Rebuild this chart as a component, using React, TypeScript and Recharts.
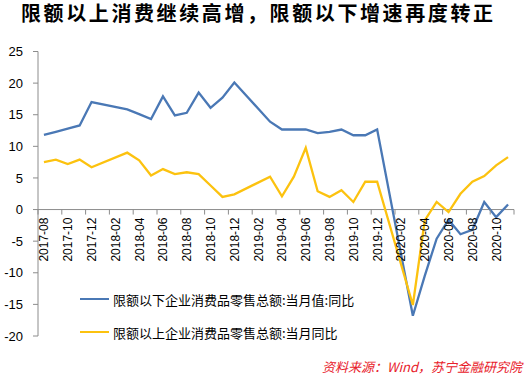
import React from "react";
import {
  LineChart,
  Line,
  XAxis,
  YAxis,
  Legend,
  ReferenceLine,
} from "recharts";

// ---------------------------------------------------------------------------
// Data (Jan/Feb are not reported separately)
// ---------------------------------------------------------------------------

const MONTHS = [
  "2017-08", "2017-09", "2017-10", "2017-11", "2017-12",
  "2018-01", "2018-02", "2018-03", "2018-04", "2018-05", "2018-06",
  "2018-07", "2018-08", "2018-09", "2018-10", "2018-11", "2018-12",
  "2019-01", "2019-02", "2019-03", "2019-04", "2019-05", "2019-06",
  "2019-07", "2019-08", "2019-09", "2019-10", "2019-11", "2019-12",
  "2020-01", "2020-02", "2020-03", "2020-04", "2020-05", "2020-06",
  "2020-07", "2020-08", "2020-09", "2020-10", "2020-11",
];

// 限额以下企业消费品零售总额:当月值:同比
const BELOW = [
  11.8, 12.3, 12.8, 13.3, 17.0,
  null, null, 15.85, 15.1, 14.3, 17.9,
  14.9, 15.3, 18.5, 16.1, 17.7, 20.1,
  null, null, 13.9, 12.66, 12.66, 12.66,
  12.1, 12.3, 12.66, 11.75, 11.75, 12.66,
  null, null, -16.8, -10.5, -4.6, -1.6,
  -3.9, -3.2, 1.2, -1.2, 0.8,
];

// 限额以上企业消费品零售总额:当月同比
const ABOVE = [
  7.5, 7.9, 7.2, 7.9, 6.7,
  null, null, 9.0, 7.8, 5.4, 6.4,
  5.6, 5.9, 5.6, 3.8, 2.0, 2.4,
  null, null, 5.2, 2.1, 5.2, 9.75,
  2.9, 2.0, 3.05, 1.2, 4.4, 4.4,
  null, null, -15.1, -1.7, 1.2, -0.4,
  2.5, 4.4, 5.3, 7.0, 8.3,
];

const SERIES_NAMES = [
  "限额以下企业消费品零售总额:当月值:同比",
  "限额以上企业消费品零售总额:当月同比",
];
const SERIES_COLORS = ["#4a78b5", "#fcc20f"];

const Y_TICKS = [-20, -15, -10, -5, 0, 5, 10, 15, 20, 25];
const Y_MIN = -20;
const Y_MAX = 25;

// ---------------------------------------------------------------------------
// Layout
// ---------------------------------------------------------------------------

const W = 526;
const H = 378;
const X_AXIS_H = 1;
const MARGIN = { top: 51.5, right: 12, bottom: 41, left: 0 };
const Y_AXIS_W = 38;
const PLOT_H = H - MARGIN.top - MARGIN.bottom - X_AXIS_H;
const PLOT_W = W - MARGIN.left - MARGIN.right - Y_AXIS_W;
const BAND = PLOT_W / MONTHS.length;
// distance from the bottom of the plot up to the value 0
const ZERO_OFF = (PLOT_H * (0 - Y_MIN)) / (Y_MAX - Y_MIN);

const AXIS_GREY = "#8c8c8c";
const FONT = "'Liberation Sans', Arial, 'Noto Sans CJK SC', sans-serif";

const data = MONTHS.map((m, i) => ({
  month: m,
  below: BELOW[i],
  above: ABOVE[i],
}));

// X ticks sit on the zero line, labels every 2 months, tick marks on boundaries
function XTick(props: any) {
  const { x, y, payload, index } = props;
  const zy = y - ZERO_OFF;
  const left = x - BAND / 2;
  const isLast = index === MONTHS.length - 1;
  return (
    <g>
      {index % 2 === 0 && (
        <>
          <line x1={left} y1={zy} x2={left} y2={zy + 5} stroke={AXIS_GREY} />
          <text
            x={x + 4.5}
            y={zy + 8}
            transform={`rotate(-90 ${x + 4.5} ${zy + 8})`}
            textAnchor="end"
            fontSize={12}
            fill="#000"
            fontFamily={FONT}
          >
            {payload.value}
          </text>
        </>
      )}
      {isLast && (
        <line
          x1={x + BAND / 2}
          y1={zy}
          x2={x + BAND / 2}
          y2={zy + 5}
          stroke={AXIS_GREY}
        />
      )}
    </g>
  );
}

function LegendBox() {
  return (
    <div style={{ fontFamily: "'Noto Sans CJK SC', sans-serif", fontSize: 13 }}>
      {SERIES_NAMES.map((name, i) => (
        <div
          key={name}
          style={{
            display: "flex",
            alignItems: "center",
            height: 20,
            marginBottom: i === 0 ? 13 : 0,
            color: "#000",
          }}
        >
          <span
            style={{
              display: "inline-block",
              width: 29,
              height: 2.5,
              background: SERIES_COLORS[i],
              marginRight: 4,
            }}
          />
          {name}
        </div>
      ))}
    </div>
  );
}

export default function App() {
  return (
    <div
      style={{
        position: "absolute",
        left: 0,
        top: 0,
        width: W,
        height: H,
        background: "#fff",
      }}
    >
      <div
        style={{
          position: "absolute",
          left: 21,
          top: 1,
          fontFamily: "'Noto Sans CJK SC', sans-serif",
          fontWeight: 700,
          fontSize: 20,
          lineHeight: "24px",
          letterSpacing: 2.6,
          color: "#000",
          whiteSpace: "nowrap",
        }}
      >
        限额以上消费继续高增，限额以下增速再度转正
      </div>

      <LineChart
        width={W}
        height={H}
        data={data}
        margin={MARGIN}
        style={{ fontFamily: FONT }}
      >
        <XAxis
          dataKey="month"
          scale="band"
          interval={0}
          height={X_AXIS_H}
          axisLine={false}
          tickLine={false}
          tickSize={0}
          tickMargin={0}
          tick={<XTick />}
        />
        <YAxis
          domain={[Y_MIN, Y_MAX]}
          ticks={Y_TICKS}
          interval={0}
          width={Y_AXIS_W}
          tick={{ fontSize: 13, fill: "#000" }}
          axisLine={{ stroke: AXIS_GREY }}
          tickLine={{ stroke: AXIS_GREY }}
          tickSize={5}
          tickMargin={10}
          allowDataOverflow
        />
        <ReferenceLine y={0} stroke={AXIS_GREY} strokeWidth={1} />
        <Legend
          layout="vertical"
          align="center"
          verticalAlign="middle"
          content={() => <LegendBox />}
          wrapperStyle={{ position: "absolute", left: 80, top: 289, width: 320 }}
        />
        <Line
          type="linear"
          dataKey="below"
          name={SERIES_NAMES[0]}
          stroke={SERIES_COLORS[0]}
          strokeWidth={2.3}
          dot={false}
          connectNulls
          isAnimationActive={false}
        />
        <Line
          type="linear"
          dataKey="above"
          name={SERIES_NAMES[1]}
          stroke={SERIES_COLORS[1]}
          strokeWidth={2.3}
          dot={false}
          connectNulls
          isAnimationActive={false}
        />
      </LineChart>

      <div
        style={{
          position: "absolute",
          right: 4,
          top: 357,
          fontFamily: "'Noto Sans CJK SC', sans-serif",
          fontSize: 13,
          fontStyle: "italic",
          color: "#e8202a",
          whiteSpace: "nowrap",
        }}
      >
        资料来源：Wind，苏宁金融研究院
      </div>
    </div>
  );
}
